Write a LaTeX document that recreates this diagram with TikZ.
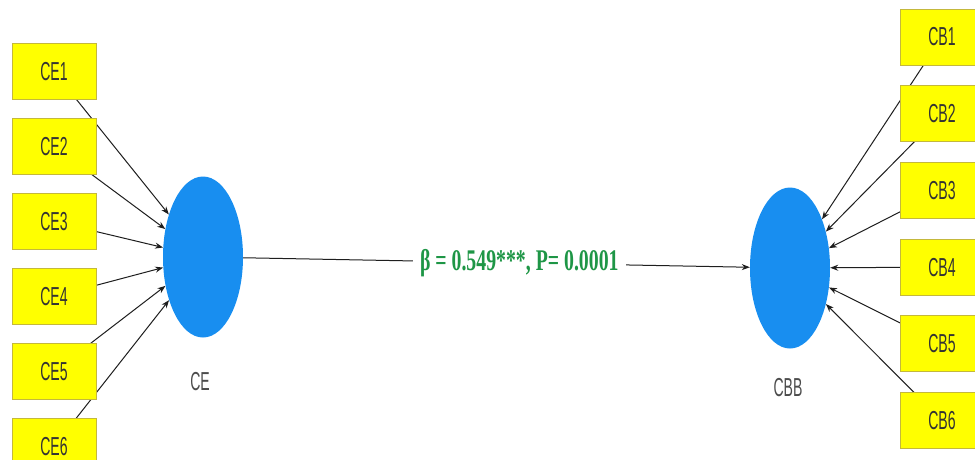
\documentclass[tikz,border=0pt]{standalone}
\usepackage{fontspec}
\usetikzlibrary{arrows.meta,shapes.geometric}
\newfontfamily\boxfont{Liberation Sans}[FakeStretch=0.54]
\newfontfamily\betafont{Liberation Serif}[FakeStretch=0.66]
\definecolor{latblue}{RGB}{24,142,240}
\definecolor{boxyellow}{RGB}{255,255,0}
\definecolor{boxedge}{RGB}{196,184,60}
\definecolor{betagreen}{RGB}{30,150,70}
\definecolor{linegray}{RGB}{30,30,30}
\pgfdeclarelayer{bg}
\pgfsetlayers{bg,main}
\tikzset{
  indbox/.style={draw=boxedge, line width=1pt, fill=boxyellow, minimum width=84pt, minimum height=56pt, inner sep=0pt, font=\boxfont\fontsize{26pt}{28pt}\selectfont, text=black!80},
  latent/.style={ellipse, fill=latblue, draw=none, minimum width=80pt, minimum height=161pt, inner sep=0pt},
  latlabel/.style={font=\boxfont\fontsize{26pt}{28pt}\selectfont, text=black!70},
  conn/.style={draw=linegray, line width=1pt, -{Stealth[length=8pt,width=6pt]}}
}
\begin{document}
\begin{tikzpicture}[x=1pt,y=-1pt]
\useasboundingbox (0,0) rectangle (975,459);
\clip (0,0) rectangle (975,459);
% latent variables
\node[latent] (CE) at (203,257) {};
\node[latent] (CBB) at (790,268) {};
\node[latlabel] (CElab) at (200,382) {CE};
\node[latlabel] (CBBlab) at (788,388) {CBB};
% indicator boxes
\foreach \i in {1,...,6} {
  \node[indbox] (ce\i) at (54,{71.5+75*(\i-1)}) {CE\i};
  \node[indbox] (cb\i) at (942,{37+76.7*(\i-1)}) {CB\i};
}
\begin{pgfonlayer}{bg}
\fill[white] (0,0) rectangle (975,459);
\foreach \i in {1,...,6} {
  \draw[conn] (ce\i.center) -- (CE);
  \draw[conn] (cb\i.center) -- (CBB);
}
\draw[conn] (CE) -- node[pos=0.545, fill=white, inner sep=7pt, text=betagreen, font=\betafont\bfseries\fontsize{30pt}{32pt}\selectfont] (beta) {β = 0.549***, P= 0.0001} (CBB);
\end{pgfonlayer}
\end{tikzpicture}
\end{document}
